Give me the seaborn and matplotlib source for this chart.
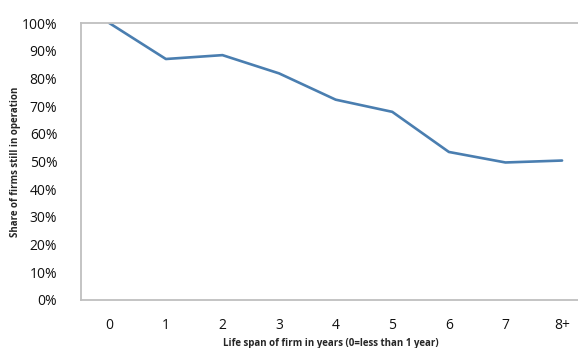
import matplotlib
matplotlib.use("Agg")
import matplotlib.pyplot as plt
import matplotlib.ticker as mticker
import pandas as pd
import seaborn as sns

# data
life_span = ["0", "1", "2", "3", "4", "5", "6", "7", "8+"]
share_operating = [100.0, 87.0, 88.4, 81.8, 72.3, 67.9, 53.4, 49.6, 50.3]

df = pd.DataFrame({"span": life_span, "share": share_operating})

sns.set_style("white")
plt.rcParams["font.family"] = ["Open Sans", "DejaVu Sans"]

fig = plt.figure(figsize=(5.78, 3.48), dpi=100)
# plot area runs past the right edge of the picture (cropped like the original)
ax = fig.add_axes([0.1401, 0.1388, 0.8813, 0.795])

sns.lineplot(data=df, x="span", y="share", ax=ax, color="#4a7eb0", linewidth=1.9, sort=False)

ax.set_xlim(-0.5, len(life_span) - 0.5)
ax.set_ylim(0, 100)
ax.yaxis.set_major_locator(mticker.MultipleLocator(10))
ax.yaxis.set_major_formatter(mticker.FuncFormatter(lambda v, p: f"{v:.0f}%"))

# category labels centred, tick marks between categories
ax.set_xticks(range(len(life_span)))
ax.set_xticklabels(life_span)
ax.set_xticks([i + 0.5 for i in range(-1, len(life_span))], minor=True)
ax.tick_params(axis="x", which="major", length=0, pad=13, labelsize=10, colors="#111111")
ax.tick_params(axis="x", which="minor", direction="in", length=4, width=0.8, color="#bfbfbf")
ax.tick_params(axis="y", which="major", direction="in", length=4, width=0.8, color="#bfbfbf",
               pad=17, labelsize=10, labelcolor="#111111")

for side in ["left", "bottom", "top", "right"]:
    ax.spines[side].set_visible(True)
    ax.spines[side].set_color("#bfbfbf")
    ax.spines[side].set_linewidth(1.3)

ax.set_xlabel("Life span of firm in years (0=less than 1 year)", fontsize=7, fontweight="bold")
ax.set_ylabel("Share of firms still in operation", fontsize=7, fontweight="bold")
ax.xaxis.set_label_coords(0.49, -0.14)
ax.yaxis.set_label_coords(-0.118, 0.5)

fig.savefig("out.png", dpi=100)
